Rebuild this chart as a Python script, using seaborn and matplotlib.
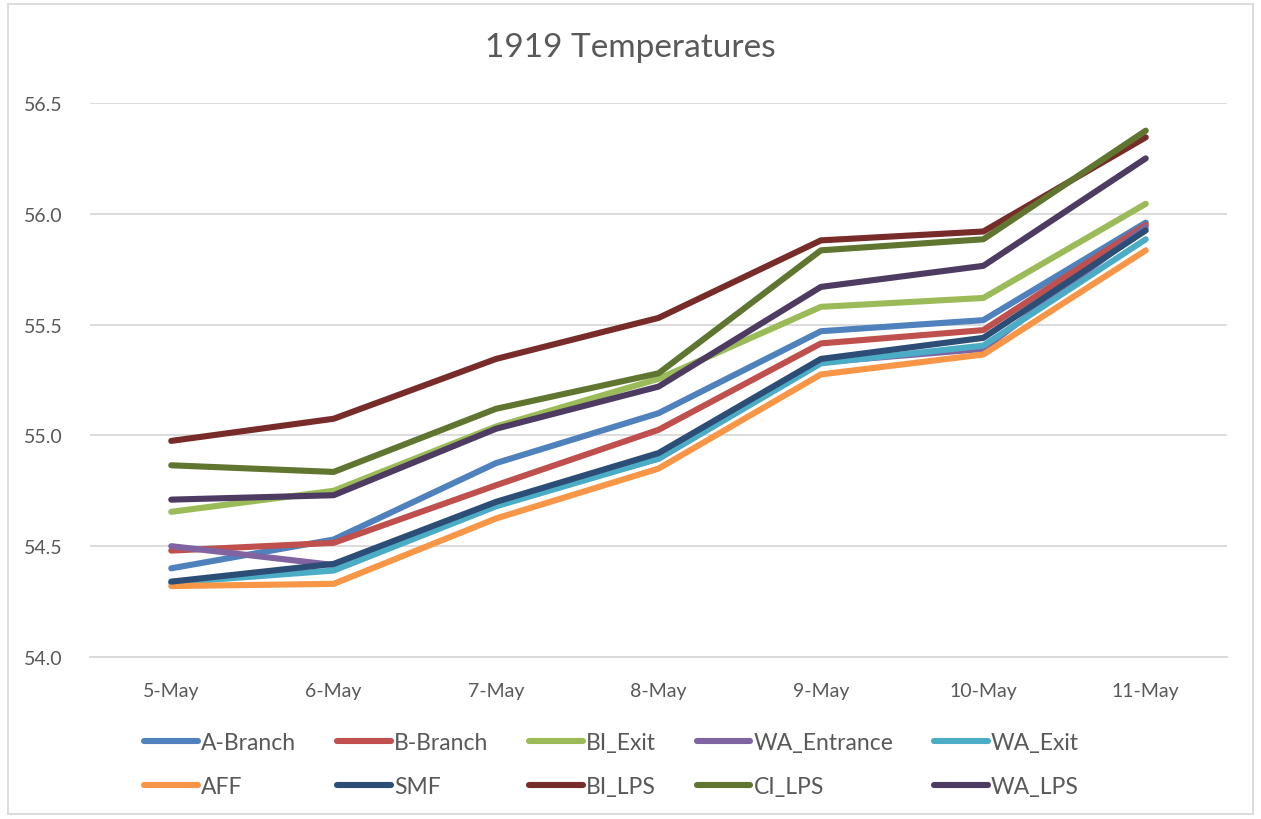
import pandas as pd
import matplotlib.pyplot as plt
import seaborn as sns
from matplotlib.patches import Rectangle

# days on the x axis
days = ['5-May', '6-May', '7-May', '8-May', '9-May', '10-May', '11-May']

# temperature series
a_branch = [54.40, 54.53, 54.875, 55.10, 55.47, 55.52, 55.96]
b_branch = [54.48, 54.515, 54.775, 55.025, 55.415, 55.475, 55.95]
bi_exit = [54.655, 54.75, 55.04, 55.255, 55.58, 55.62, 56.045]
wa_entrance = [54.50, 54.415, 54.69, 54.895, 55.33, 55.39, 55.94]
wa_exit = [54.335, 54.39, 54.68, 54.895, 55.325, 55.405, 55.885]
aff = [54.32, 54.33, 54.625, 54.85, 55.275, 55.365, 55.835]
smf = [54.34, 54.42, 54.70, 54.92, 55.345, 55.44, 55.925]
bi_lps = [54.975, 55.075, 55.345, 55.53, 55.88, 55.92, 56.345]
ci_lps = [54.865, 54.835, 55.12, 55.28, 55.835, 55.885, 56.375]
wa_lps = [54.71, 54.73, 55.03, 55.22, 55.67, 55.765, 56.25]

series = {
    'A-Branch': a_branch, 'B-Branch': b_branch, 'BI_Exit': bi_exit,
    'WA_Entrance': wa_entrance, 'WA_Exit': wa_exit, 'AFF': aff, 'SMF': smf,
    'BI_LPS': bi_lps, 'CI_LPS': ci_lps, 'WA_LPS': wa_lps,
}
colors = ['#4F81BD', '#C0504D', '#9BBB59', '#8064A2', '#4BACC6',
          '#F79646', '#2C4D75', '#772C2A', '#5F7530', '#4D3B62']

# long form table for seaborn
rows = []
for name, vals in series.items():
    for d, v in zip(days, vals):
        rows.append({'Day': d, 'Temp': v, 'Site': name})
data = pd.DataFrame(rows)

sns.set_style('white')
plt.rcParams['font.family'] = ['Lato', 'DejaVu Sans']

fig = plt.figure(figsize=(12.61, 8.20), dpi=100)
ax = fig.add_axes([0.0714, 0.1976, 0.9016, 0.6756])

sns.lineplot(data=data, x='Day', y='Temp', hue='Site', palette=colors,
             sort=False, linewidth=4.4, ax=ax, legend=True)
for line in ax.get_lines():
    line.set_solid_capstyle('round')

ax.set_xlim(-0.5, 6.5)
ax.set_ylim(54.0, 56.5)
ax.set_yticks([54.0, 54.5, 55.0, 55.5, 56.0, 56.5])
ax.set_yticklabels(['54.0', '54.5', '55.0', '55.5', '56.0', '56.5'])
ax.set_xticks(range(len(days)))
ax.set_xticklabels(days)
ax.set_xticks([i - 0.5 for i in range(len(days) + 1)], minor=True)
ax.grid(axis='y', color='#D9D9D9', linewidth=1.3)
ax.set_axisbelow(True)
for s in ['top', 'right', 'left']:
    ax.spines[s].set_visible(False)
ax.spines['bottom'].set_color('#D9D9D9')
ax.spines['bottom'].set_linewidth(1.3)
ax.tick_params(axis='x', which='major', length=0, pad=18, labelsize=14, labelcolor='#595959')
ax.tick_params(axis='x', which='minor', length=6, width=1.3, color='#D9D9D9')
ax.tick_params(axis='y', length=0, pad=20, labelsize=14, labelcolor='#595959')
ax.set_xlabel('')
ax.set_ylabel('')

fig.text(0.5, 0.941, '1919 Temperatures', ha='center', va='center',
         fontsize=24, color='#595959')

# legend is filled column by column, so reorder to read row by row
handles, labels = ax.get_legend_handles_labels()
ax.get_legend().remove()
order = [0, 5, 1, 6, 2, 7, 3, 8, 4, 9]
handles = [handles[i] for i in order]
labels = [labels[i] for i in order]
fig.legend(handles, labels, ncol=5, loc='center', bbox_to_anchor=(0.485, 0.066),
           frameon=False, fontsize=16.5, labelcolor='#595959', handlelength=2.35,
           handletextpad=0.13, columnspacing=1.78, labelspacing=1.0)

# light grey chart border
fig.patches.append(Rectangle((0.006, 0.006), 0.988, 0.988, transform=fig.transFigure,
                             fill=False, edgecolor='#D9D9D9', linewidth=1.3))

plt.savefig('out.png', dpi=100)
